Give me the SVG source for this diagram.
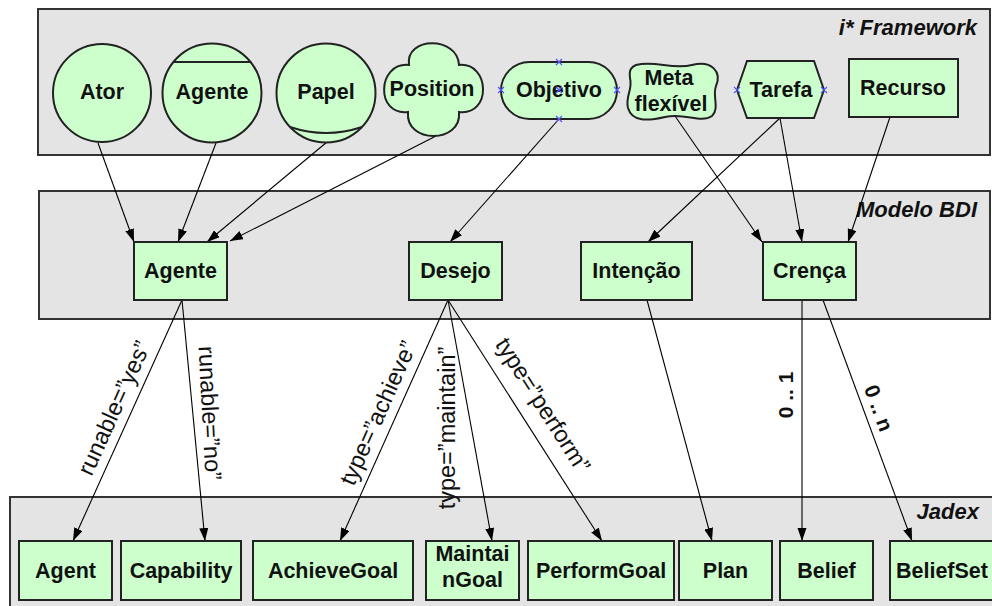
<svg xmlns="http://www.w3.org/2000/svg" width="992" height="606" viewBox="0 0 992 606">
<defs>
<marker id="arr" markerUnits="userSpaceOnUse" markerWidth="14" markerHeight="10" refX="13" refY="4.5" orient="auto">
<path d="M0,0 L13,4.5 L0,9 Z" fill="#000"/>
</marker>
<style>
.cont{fill:#E4E4E4;stroke:#333;stroke-width:2}
.nd{fill:#CCFFCC;stroke:#222;stroke-width:2}
.t{font-family:"Liberation Sans",Arial,sans-serif;font-size:21.5px;font-weight:bold;fill:#111;text-anchor:middle}
.title{font-family:"Liberation Sans",Arial,sans-serif;font-size:22px;font-weight:bold;font-style:italic;fill:#111;text-anchor:end}
.lbl{font-family:"Liberation Sans",Arial,sans-serif;font-size:23.5px;fill:#111;text-anchor:middle;dominant-baseline:central}
.lblb{font-family:"Liberation Sans",Arial,sans-serif;font-size:21px;font-weight:bold;fill:#111;text-anchor:middle;dominant-baseline:central}
.ln{stroke:#000;stroke-width:1.1;fill:none;marker-end:url(#arr)}
.mk{stroke:#5555ff;stroke-width:1.2}
</style>
</defs>

<g id="containers">
<rect id="iframework" class="cont" x="38" y="9" width="952" height="146"/>
<text class="title" x="977" y="35">i* Framework</text>
<rect id="modelobdi" class="cont" x="39" y="191" width="951" height="128"/>
<text class="title" x="977" y="217">Modelo BDI</text>
<rect id="jadex" class="cont" x="10" y="497" width="990" height="115"/>
<text class="title" x="979" y="519">Jadex</text>
</g>

<g id="connectors">
<line class="ln" x1="98" y1="143" x2="134" y2="242"/>
<line class="ln" x1="216" y1="143" x2="178" y2="242"/>
<line class="ln" x1="327" y1="142" x2="207" y2="242"/>
<line class="ln" x1="436" y1="136" x2="230" y2="241"/>
<line class="ln" x1="559" y1="119" x2="450" y2="242"/>
<line class="ln" x1="675" y1="116" x2="762" y2="242"/>
<line class="ln" x1="780" y1="118" x2="648" y2="242"/>
<line class="ln" x1="780" y1="118" x2="802" y2="242"/>
<line class="ln" x1="890" y1="117" x2="848" y2="242"/>
<line class="ln" x1="182" y1="300" x2="73" y2="541"/>
<line class="ln" x1="182" y1="300" x2="205" y2="541"/>
<line class="ln" x1="448" y1="300" x2="340" y2="541"/>
<line class="ln" x1="448" y1="300" x2="492" y2="541"/>
<line class="ln" x1="448" y1="300" x2="602" y2="541"/>
<line class="ln" x1="647" y1="300" x2="712" y2="541"/>
<line class="ln" x1="802" y1="300" x2="802" y2="541"/>
<line class="ln" x1="823" y1="300" x2="912" y2="541"/>
<text class="lbl" transform="translate(114,408) rotate(-65.7)">runable=”yes”</text>
<text class="lbl" transform="translate(210,413) rotate(87)">runable=”no”</text>
<text class="lbl" transform="translate(378,413) rotate(-65.9)">type=”achieve”</text>
<text class="lbl" transform="translate(447,428) rotate(-90)">type=”maintain”</text>
<text class="lbl" transform="translate(543,405) rotate(57.4)">type=”perform”</text>
<text class="lblb" transform="translate(785,395) rotate(-90)">0 .. 1</text>
<text class="lblb" transform="translate(879,408) rotate(69.7)">0 .. n</text>
</g>

<g id="ator"><circle class="nd" cx="102" cy="93" r="49"/><text class="t" x="102" y="99">Ator</text></g>
<g id="agente-istar"><circle class="nd" cx="212" cy="93" r="49.5"/><line x1="173.5" y1="62" x2="250.5" y2="62" stroke="#222" stroke-width="2"/><text class="t" x="212" y="99">Agente</text></g>
<g id="papel"><circle class="nd" cx="326" cy="93" r="49.5"/><path d="M290,127 Q326,139 362,127" fill="none" stroke="#222" stroke-width="2"/><text class="t" x="326" y="99">Papel</text></g>
<g id="position"><path class="nd" d="M409,65 C405,36 458,36 459,65 C490,62 492,116 459,112 C462,144 405,144 408,112 C375,116 377,62 409,65 Z"/><text class="t" x="432" y="96">Position</text></g>
<g id="objetivo"><rect class="nd" x="501" y="62" width="116" height="57" rx="28.5"/><text class="t" x="559" y="97">Objetivo</text>
<path class="mk" d="M556,59 l6,6 M562,59 l-6,6 M498,87 l6,6 M504,87 l-6,6 M614,87 l6,6 M620,87 l-6,6 M556,116 l6,6 M562,116 l-6,6 M556,87 l6,6 M562,87 l-6,6"/></g>
<g id="metaflexivel"><path class="nd" d="M636,65 C655,60 672,70 692,65 C712,60 722,72 716,86 C712,96 720,108 712,116 C700,124 685,112 665,117 C648,121 632,122 628,108 C625,96 633,90 630,78 C629,70 631,67 636,65 Z"/><text class="t" x="669" y="85">Meta</text><text class="t" x="671" y="111">flexível</text></g>
<g id="tarefa"><polygon class="nd" points="737,90 747,61 814,61 824,90 814,118 747,118"/><text class="t" x="781" y="97">Tarefa</text>
<path class="mk" d="M734,87 l6,6 M740,87 l-6,6 M821,87 l6,6 M827,87 l-6,6"/></g>
<g id="recurso"><rect class="nd" x="849" y="59" width="109" height="58"/><text class="t" x="903" y="95">Recurso</text></g>

<g id="agente"><rect class="nd" x="134" y="242" width="93" height="58"/><text class="t" x="180.5" y="278">Agente</text></g>
<g id="desejo"><rect class="nd" x="409" y="242" width="93" height="58"/><text class="t" x="455.5" y="278">Desejo</text></g>
<g id="intencao"><rect class="nd" x="581" y="242" width="111" height="58"/><text class="t" x="636.5" y="278">Intenção</text></g>
<g id="crenca"><rect class="nd" x="763" y="242" width="93" height="58"/><text class="t" x="809.5" y="278">Crença</text></g>

<g id="agent"><rect class="nd" x="19" y="541" width="93" height="59"/><text class="t" x="65.5" y="578">Agent</text></g>
<g id="capability"><rect class="nd" x="121" y="541" width="120" height="59"/><text class="t" x="181" y="578">Capability</text></g>
<g id="achievegoal"><rect class="nd" x="253" y="541" width="160" height="59"/><text class="t" x="333" y="578">AchieveGoal</text></g>
<g id="maintaingoal"><rect class="nd" x="426" y="541" width="93" height="59"/><text class="t" x="472.5" y="561">Maintai</text><text class="t" x="472.5" y="587">nGoal</text></g>
<g id="performgoal"><rect class="nd" x="528" y="541" width="146" height="59"/><text class="t" x="601" y="578">PerformGoal</text></g>
<g id="plan"><rect class="nd" x="679" y="541" width="93" height="59"/><text class="t" x="725.5" y="578">Plan</text></g>
<g id="belief"><rect class="nd" x="780" y="541" width="93" height="59"/><text class="t" x="826.5" y="578">Belief</text></g>
<g id="beliefset"><rect class="nd" x="890" y="541" width="120" height="59"/><text class="t" x="942" y="578">BeliefSet</text></g>
</svg>
